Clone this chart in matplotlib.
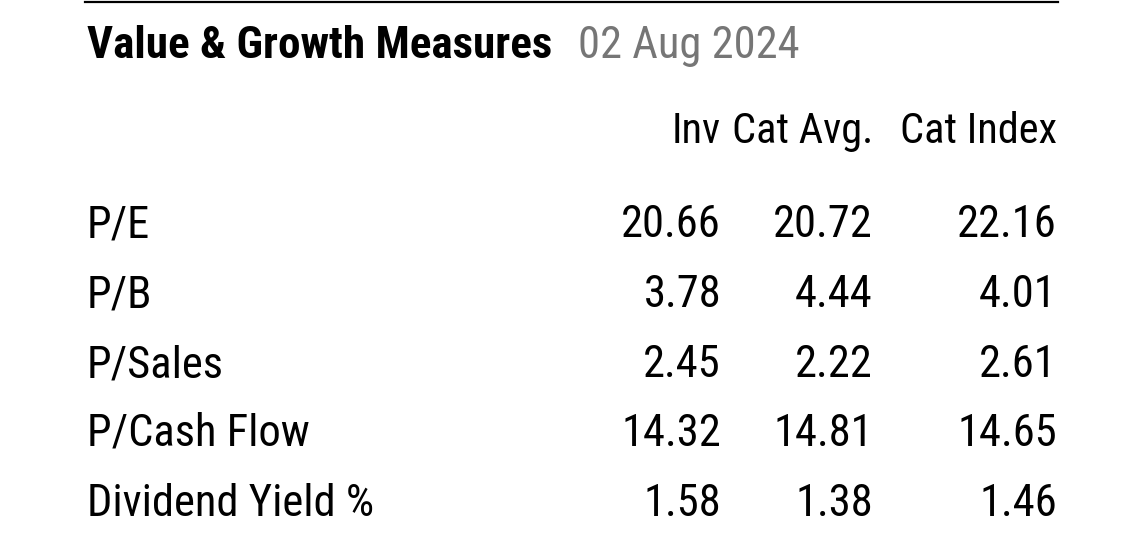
import matplotlib
matplotlib.use("Agg")
import matplotlib.pyplot as plt
from matplotlib import font_manager as fm

title = "Value & Growth Measures"
date_label = "02 Aug 2024"
columns = ["Inv", "Cat Avg.", "Cat Index"]
metrics = ["P/E", "P/B", "P/Sales", "P/Cash Flow", "Dividend Yield %"]
inv_values = [20.66, 3.78, 2.45, 14.32, 1.58]
cat_avg_values = [20.72, 4.44, 2.22, 14.81, 1.38]
cat_index_values = [22.16, 4.01, 2.61, 14.65, 1.46]


def pick_font(cands):
    for c in cands:
        try:
            fm.findfont(fm.FontProperties(family=c), fallback_to_default=False)
            return c
        except Exception:
            continue
    return "DejaVu Sans"

narrow = pick_font(["Roboto Condensed", "Liberation Sans Narrow", "Arial Narrow", "Roboto"])
is_narrow = narrow != "Roboto"

W, H = 1130, 534
fig = plt.figure(figsize=(W / 100, H / 100), dpi=100)
fig.patch.set_facecolor("white")


def px(x, y):
    return x / W, 1 - y / H

fs = 32 if is_narrow else 26
fs_head = fs - 1.5

# top rule
fig.add_artist(plt.Line2D([85 / W, 1058 / W], [1 - 2 / H, 1 - 2 / H],
                          color="black", lw=1.6, transform=fig.transFigure))

fig.text(*px(87, 58), title, fontsize=fs + 0.5, fontweight="bold", family=narrow,
         color="black", ha="left", va="baseline")
fig.text(*px(578, 58), date_label, fontsize=fs, family=narrow,
         color="#767676", ha="left", va="baseline")

col_right = [721, 873, 1057]
for c, xr in zip(columns, col_right):
    fig.text(*px(xr, 143), c, fontsize=fs_head, family=narrow, color="black",
             ha="right", va="baseline")

row_base = [237, 307, 377, 446, 516]
for i, m in enumerate(metrics):
    y = row_base[i]
    fig.text(*px(87, y), m, fontsize=fs, family=narrow, color="black",
             ha="left", va="baseline")
    for vals, xr in zip([inv_values, cat_avg_values, cat_index_values], col_right):
        fig.text(*px(xr, y), f"{vals[i]:.2f}", fontsize=fs, family=narrow,
                 color="black", ha="right", va="baseline")

fig.savefig("out.png", dpi=100, facecolor="white")
